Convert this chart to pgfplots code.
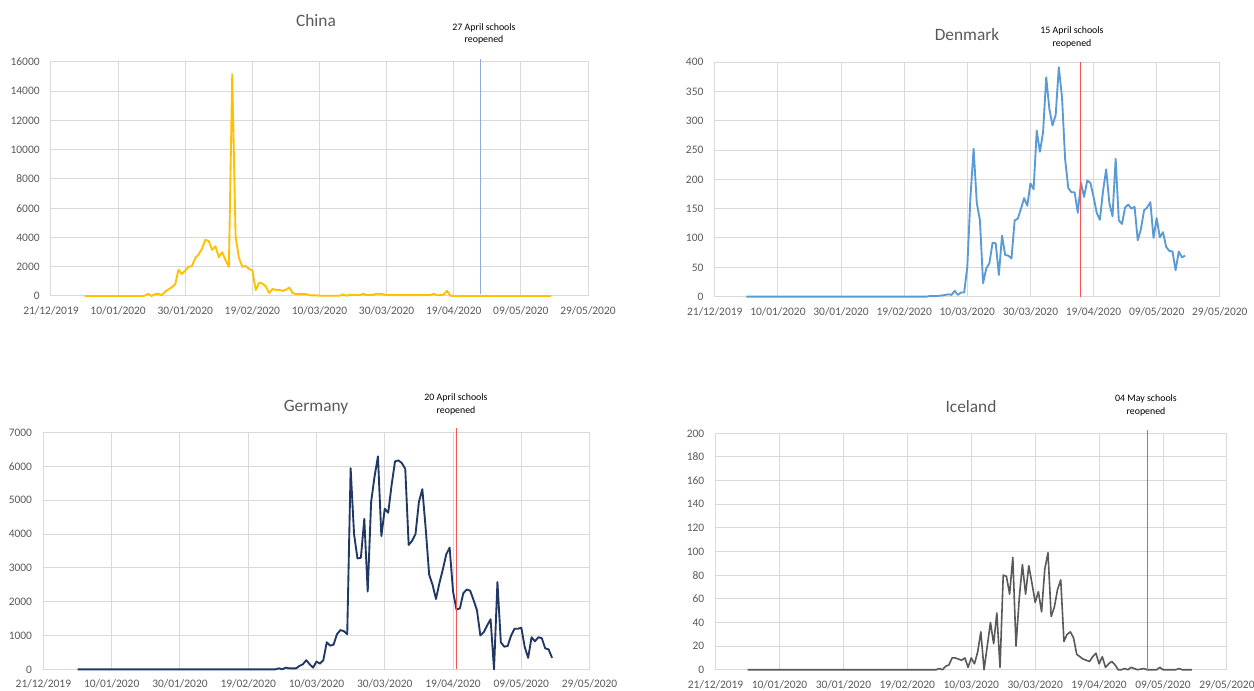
\documentclass[border=0pt]{standalone}
\usepackage{fontspec}
\setmainfont{Carlito}
\usepackage{pgfplots}
\pgfplotsset{compat=1.18}
\definecolor{gridc}{HTML}{D9D9D9}
\definecolor{tickc}{HTML}{595959}
\definecolor{chinac}{HTML}{FFC000}
\definecolor{denc}{HTML}{5B9BD5}
\definecolor{gerc}{HTML}{203864}
\definecolor{icec}{HTML}{595959}
\definecolor{schoolred}{RGB}{255,80,80}
\definecolor{schoolblue}{HTML}{8FAADC}
\pgfplotsset{
  panel/.style={
    scale only axis, anchor=south west,
    xmin=0, xmax=160, ymin=0,
    xtick={0,20,...,160},
    xticklabels={21/12/2019,10/01/2020,30/01/2020,19/02/2020,10/03/2020,30/03/2020,19/04/2020,09/05/2020,29/05/2020},
    grid=major,
    major grid style={draw=gridc, line width=0.75pt},
    axis line style={draw=gridc, line width=0.75pt},
    tick style={draw=none},
    ticklabel style={font=\fontsize{8.6}{10}\selectfont, text=tickc},
    xticklabel style={yshift=-4.3pt},
    yticklabel style={xshift=-5pt},
    scaled y ticks=false,
    /pgf/number format/1000 sep={},
    /pgf/number format/assume math mode=true,
    clip=false, no markers,
    every axis plot/.append style={line join=round},
  }
}
\newcommand{\ttl}[1]{\fontsize{13}{15}\selectfont\color{tickc}#1}
\newcommand{\ann}[2]{\fontsize{7.4}{9.4}\selectfont\color{black}\begin{tabular}{@{}c@{}}#1\\#2\end{tabular}}
\begin{document}
\begin{tikzpicture}[x=0.75pt,y=0.75pt]
\useasboundingbox[fill=white] (0,0) rectangle (1254,690);

% ---------------- China ----------------
\begin{axis}[panel, at={(38.25pt,295.5pt)}, width=402.75pt, height=175.5pt,
  ymax=16000, ytick={0,2000,...,16000}]
\addplot[color=chinac, line width=1.4pt] coordinates {
(10,0) (27,0) (28,30) (29,150) (30,0) (31,130) (32,150) (33,50) (34,300) (35,450)
(36,600) (37,800) (38,1800) (39,1500) (40,1750) (41,2000) (42,2050) (43,2600) (44,2850) (45,3250)
(46,3850) (47,3750) (48,3150) (49,3400) (50,2650) (51,3000) (52,2450) (53,2000) (54,15150) (55,4050)
(56,2600) (57,2000) (58,2050) (59,1850) (60,1750) (61,400) (62,900) (63,850) (64,650) (65,200)
(66,480) (67,420) (68,420) (69,350) (70,430) (71,580) (72,200) (73,130) (74,130) (75,130)
(76,130) (77,50) (78,40) (79,40) (80,20) (86,20) (87,100) (88,20) (89,80) (90,80)
(91,80) (92,60) (93,150) (94,70) (95,80) (96,80) (97,150) (98,150) (99,120) (100,60)
(113,60) (114,150) (115,50) (116,60) (117,100) (118,350) (119,20) (120,0) (149,0)
};
\addplot[color=schoolblue, line width=0.7pt] coordinates {(128,150) (128,16200)};
\end{axis}

% ---------------- Denmark ----------------
\begin{axis}[panel, at={(536.1pt,295pt)}, width=378.75pt, height=176pt,
  ymax=400, ytick={0,50,...,400}]
\addplot[color=denc, line width=1.4pt] coordinates {
(10,0) (67,0) (68,1) (70,1) (72,2) (73,3) (74,4) (75,3) (76,10) (77,3) (78,7) (79,7)
(80,51) (81,170) (82,252) (83,160) (84,130) (85,23) (86,48) (87,57) (88,92) (89,91)
(90,37) (91,104) (92,71) (93,70) (94,65) (95,130) (96,133) (97,150) (98,168) (99,155)
(100,193) (101,183) (102,283) (103,247) (104,280) (105,374) (106,320) (107,292) (108,310) (109,391)
(110,340) (111,234) (112,185) (113,178) (114,178) (115,143) (116,194) (117,170) (118,198) (119,194)
(120,170) (121,143) (122,131) (123,180) (124,217) (125,160) (126,137) (127,235) (128,130) (129,124)
(130,152) (131,157) (132,150) (133,153) (134,96) (135,115) (136,147) (137,152) (138,161) (139,100)
(140,134) (141,101) (142,110) (143,85) (144,78) (145,77) (146,45) (147,77) (148,67) (149,70)
};
\addplot[draw=schoolred, line width=0.8pt] coordinates {(116,0) (116,400)};
\end{axis}

% ---------------- Germany ----------------
\begin{axis}[panel, at={(32.55pt,15.5pt)}, width=409.65pt, height=177.5pt,
  ymax=7000, ytick={0,1000,...,7000}]
\addplot[color=gerc, line width=1.4pt] coordinates {
(10,0) (68,0) (69,30) (70,0) (71,50) (72,30) (74,30) (75,100) (76,150) (77,270)
(78,150) (79,50) (80,230) (81,170) (82,270) (83,800) (84,700) (85,730) (86,1040) (87,1160)
(88,1130) (89,1040) (90,5950) (91,4000) (92,3280) (93,3300) (94,4450) (95,2300) (96,4950) (97,5700)
(98,6300) (99,3940) (100,4750) (101,4630) (102,5450) (103,6150) (104,6180) (105,6100) (106,5930) (107,3680)
(108,3800) (109,4000) (110,4950) (111,5330) (112,4150) (113,2800) (114,2500) (115,2080) (116,2550) (117,2950)
(118,3400) (119,3600) (120,2300) (121,1770) (122,1800) (123,2250) (124,2360) (125,2330) (126,2050) (127,1750)
(128,1000) (129,1100) (130,1300) (131,1480) (132,0) (133,2580) (134,800) (135,670) (136,690) (137,1000)
(138,1200) (139,1200) (140,1230) (141,660) (142,340) (143,950) (144,830) (145,950) (146,920) (147,620)
(148,590) (149,340)
};
\addplot[draw=schoolred, line width=0.8pt] coordinates {(121,0) (121,7130)};
\end{axis}

% ---------------- Iceland ----------------
\begin{axis}[panel, at={(536.7pt,15.2pt)}, width=383.5pt, height=177.3pt,
  ymax=200, ytick={0,20,...,200}]
\addplot[color=icec, line width=1.2pt] coordinates {
(10,0) (69,0) (70,1) (71,0) (72,3) (73,4) (74,10) (75,10) (76,9) (77,8) (78,10) (79,2)
(80,10) (81,5) (82,15) (83,32) (84,0) (85,20) (86,40) (87,22) (88,48) (89,2)
(90,80) (91,79) (92,64) (93,95) (94,20) (95,60) (96,89) (97,64) (98,88) (99,73)
(100,57) (101,66) (102,49) (103,85) (104,99) (105,45) (106,53) (107,68) (108,76) (109,24)
(110,30) (111,32) (112,27) (113,13) (114,11) (115,9) (116,8) (117,7) (118,11) (119,14)
(120,5) (121,11) (122,2) (123,5) (124,7) (125,4) (126,0) (127,0) (128,1) (129,0)
(130,2) (131,1) (132,0) (134,1) (135,0) (138,0) (139,2) (140,0) (144,0) (145,1) (146,0) (149,0)
};
\addplot[draw=schoolred, line width=0.8pt] coordinates {(135,0) (135,203)};
\end{axis}

% ---------------- titles and notes ----------------
\node at (316,669) {\ttl{China}};
\node at (484,656) {\ann{27 April schools}{reopened}};
\node at (967,655) {\ttl{Denmark}};
\node at (1072,652.5) {\ann{15 April schools}{reopened}};
\node at (316,283) {\ttl{Germany}};
\node at (456,285.5) {\ann{20 April schools}{reopened}};
\node at (971,283) {\ttl{Iceland}};
\node at (1146,284.5) {\ann{04 May schools}{reopened}};
\end{tikzpicture}
\end{document}
